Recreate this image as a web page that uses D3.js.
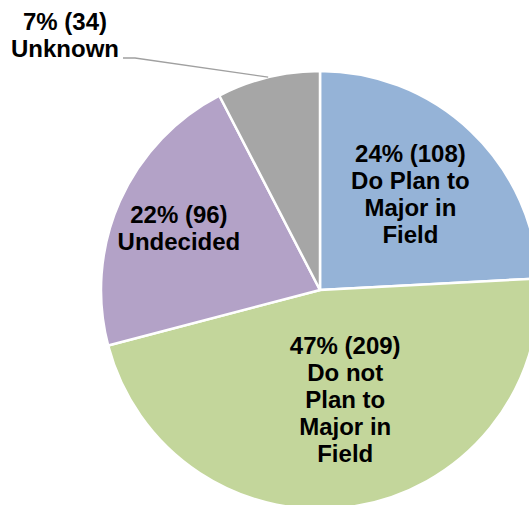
<!DOCTYPE html>
<html>
<head>
<meta charset="utf-8">
<script src="https://cdn.jsdelivr.net/npm/d3@7"></script>
<style>
  html, body { margin: 0; padding: 0; background: #fff; }
  svg { display: block; }
  .slice-label { font-family: "Liberation Sans", Arial, sans-serif; font-weight: bold; font-size: 24px; fill: #000; }
</style>
</head>
<body>
<svg id="chart" width="529" height="505"></svg>
<script>
// data, clockwise from 12 o'clock
var categories = ['Do Plan to Major in Field', 'Do not Plan to Major in Field', 'Undecided', 'Unknown'];
var counts = [108, 209, 96, 34];
var percents = ['24%', '47%', '22%', '7%'];
var labelLines = [
    ['Do Plan to', 'Major in', 'Field'],
    ['Do not', 'Plan to', 'Major in', 'Field'],
    ['Undecided'],
    ['Unknown']
];
var colors = ['#95b3d7', '#c3d69b', '#b3a2c7', '#a6a6a6'];

var width = 529;
var height = 505;
var cx = 320;
var cy = 290;
var radius = 219;
var lineHeight = 27;

// where each inside label sits, as a fraction of the radius, plus a small nudge
var labelLayout = [
    { r: 0.60, dx: 0, dy: 0 },
    { r: 0.51, dx: 8, dy: 0 },
    { r: 0.69, dx: -3, dy: 0 }
];

var svg = d3.select('#chart');
var g = svg.append('g').attr('transform', 'translate(' + cx + ',' + cy + ')');

var pie = d3.pie().sort(null).value(function(d) { return d; });
var arcs = pie(counts);

var arc = d3.arc().innerRadius(0).outerRadius(radius);

g.selectAll('path.slice')
    .data(arcs)
    .enter()
    .append('path')
    .attr('class', 'slice')
    .attr('d', arc)
    .attr('fill', function(d, i) { return colors[i]; })
    .attr('stroke', '#fff')
    .attr('stroke-width', 2.5)
    .attr('stroke-linejoin', 'round');

var pointAt = function(angle, r) {
    return [Math.sin(angle) * r, -Math.cos(angle) * r];
};

// inside labels
arcs.forEach(function(a, i) {
    if (i >= labelLayout.length) return;
    var mid = (a.startAngle + a.endAngle) / 2;
    var p = pointAt(mid, radius * labelLayout[i].r);
    var lines = [percents[i] + ' (' + counts[i] + ')'].concat(labelLines[i]);
    var x = p[0] + labelLayout[i].dx;
    // visual centre of block -> first baseline
    var y0 = p[1] + labelLayout[i].dy - (lines.length - 1) * lineHeight / 2 + 8;
    var t = g.append('text')
        .attr('class', 'slice-label')
        .attr('text-anchor', 'middle');
    lines.forEach(function(line, k) {
        t.append('tspan')
            .attr('x', x)
            .attr('y', y0 + k * lineHeight)
            .text(line);
    });
});

// outside label with leader line for the small slice
var small = arcs[3];
var smallMid = (small.startAngle + small.endAngle) / 2;
var edge = pointAt(smallMid, radius);
var elbow = [135 - cx, 58 - cy];
var end = [123 - cx, 58 - cy];

g.append('polyline')
    .attr('points', [edge, elbow, end].map(function(p) { return p.join(','); }).join(' '))
    .attr('fill', 'none')
    .attr('stroke', '#a0a0a0')
    .attr('stroke-width', 1.3);

var outer = g.append('text')
    .attr('class', 'slice-label')
    .attr('text-anchor', 'middle');
[percents[3] + ' (' + counts[3] + ')'].concat(labelLines[3]).forEach(function(line, k) {
    outer.append('tspan')
        .attr('x', 65 - cx)
        .attr('y', 29.5 - cy + k * lineHeight)
        .text(line);
});
</script>
</body>
</html>
